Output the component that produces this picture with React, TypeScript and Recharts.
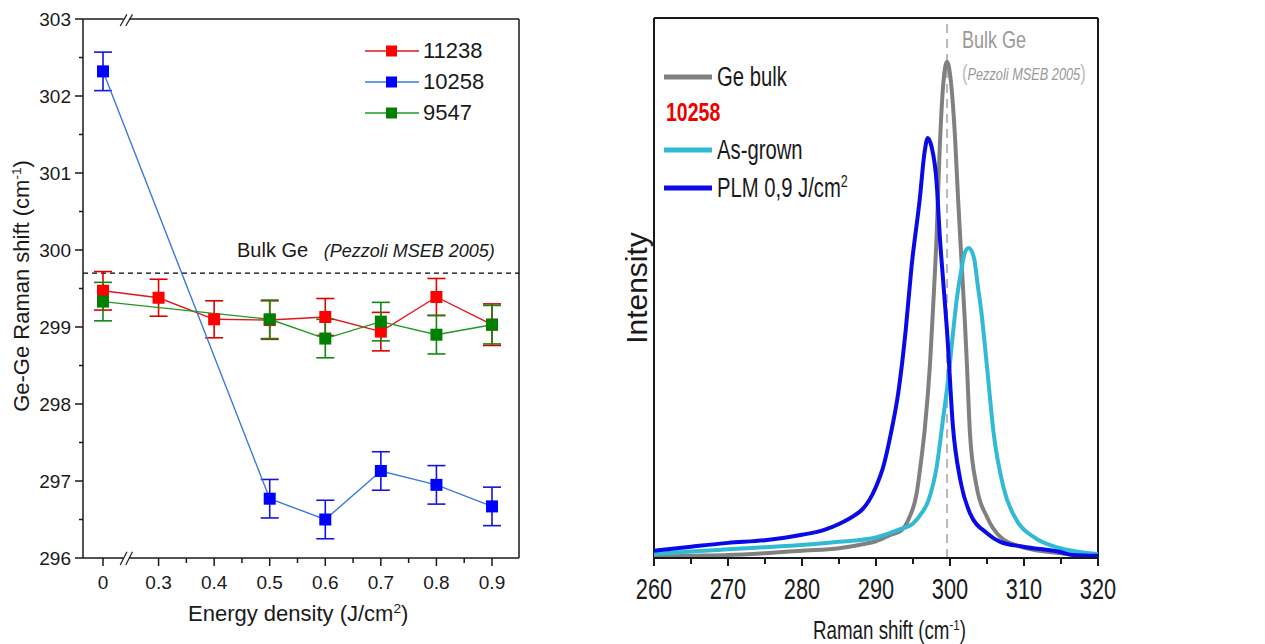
import React from "react";
import { LineChart, Line, XAxis, YAxis, ErrorBar, ReferenceLine } from "recharts";

// ---- left panel: Ge-Ge peak position vs. energy density ----
const energyLabels = ["0", "0.3", "0.4", "0.5", "0.6", "0.7", "0.8", "0.9"];
const shift11238 = [299.47, 299.38, 299.1, 299.09, 299.13, 298.94, 299.39, 299.03];
const err11238 = [0.25, 0.24, 0.24, 0.25, 0.24, 0.25, 0.24, 0.27];
const shift10258 = [302.32, null, null, 296.77, 296.5, 297.13, 296.95, 296.67];
const err10258 = [0.25, null, null, 0.25, 0.25, 0.25, 0.25, 0.25];
const shift9547 = [299.33, null, null, 299.1, 298.85, 299.07, 298.9, 299.03];
const err9547 = [0.25, null, null, 0.25, 0.25, 0.25, 0.25, 0.25];
const bulkGeShift = 299.7;
const leftYTicks = [296, 296.5, 297, 297.5, 298, 298.5, 299, 299.5, 300, 300.5, 301, 301.5, 302, 302.5, 303];
const leftXTicks = [0, 1, 1.5, 2, 2.5, 3, 3.5, 4, 4.5, 5, 5.5, 6, 6.5, 7];

// ---- right panel: Raman spectra ----
const geBulkShift = [260, 265, 270, 275, 280, 285, 288, 290, 292, 293.5, 294.5, 295.5, 296, 296.6, 297.3, 297.7, 298.2, 298.6, 299.1, 299.6, 300.1, 300.7, 301.1, 301.6, 302.0, 302.3, 302.7, 303.6, 305, 306.8, 309.5, 313.5, 317, 320];
const geBulkInt = [0.25, 0.4, 0.55, 0.9, 1.35, 1.8, 2.5, 3.1, 4.3, 5.2, 7.5, 12, 17, 24, 36, 46, 60, 75.5, 87.9, 91.9, 88.5, 77.4, 66.3, 53.9, 44, 35.4, 23, 13.2, 7.6, 3.9, 2.1, 1.1, 0.6, 0.4];

const asGrownShift = [260, 265, 270, 275, 280, 285, 290, 293, 295, 296, 297.1, 298.2, 299.1, 299.8, 300.4, 300.9, 301.6, 302.0, 302.5, 303.2, 303.8, 304.2, 305.0, 305.9, 307.2, 309.0, 311.3, 314.9, 317.5, 320];
const asGrownInt = [0.75, 1.2, 1.6, 2.0, 2.4, 3.0, 3.8, 5.2, 6.4, 8, 10.7, 16.9, 26.2, 33.6, 41.6, 47.8, 53.9, 56.5, 57.4, 55.8, 50, 46, 35.4, 23.1, 13.2, 7.0, 3.9, 1.8, 1.1, 0.75];

const plmShift = [260, 265, 270, 275, 280, 283, 285, 287, 288, 289, 290, 291, 292, 293, 294, 294.8, 295.9, 296.6, 297.0, 297.5, 298.2, 298.6, 299.1, 299.6, 300.4, 301.4, 302.7, 305, 306.8, 309.9, 314.9, 316.6, 320];
const plmInt = [1.35, 2.1, 2.8, 3.3, 4.3, 5.2, 6.3, 7.8, 8.8, 10.5, 13.2, 17, 23, 30.5, 42, 53.9, 66.3, 75.5, 77.8, 76.2, 69.4, 60, 50.9, 42, 24.3, 14.4, 8.3, 4.6, 3.0, 2.1, 1.1, 0.55, 0.4];
const bulkGeRef = 299.6;
const rightXTicks = [260, 265, 270, 275, 280, 285, 290, 295, 300, 305, 310, 315, 320];

const X_MIN = -0.36;
const X_MAX = 7.486;

const toSeries = (vals: (number | null)[], errs: (number | null)[]) =>
  vals
    .map((v, i) => ({ idx: i, value: v, err: errs[i] }))
    .filter((d) => d.value !== null);

const toSpectrum = (xs: number[], ys: number[]) => xs.map((x, i) => ({ shift: x, intensity: ys[i] }));

const series = [
  { name: "11238", data: toSeries(shift11238, err11238), line: "#e3141b", marker: "#ff0000", bar: "#e00000" },
  { name: "10258", data: toSeries(shift10258, err10258), line: "#3a78e0", marker: "#0000ff", bar: "#1414e0" },
  { name: "9547", data: toSeries(shift9547, err9547), line: "#1e9a1e", marker: "#008000", bar: "#118811" },
];

const spectra = [
  { name: "Ge bulk", data: toSpectrum(geBulkShift, geBulkInt), color: "#808080" },
  { name: "As-grown", data: toSpectrum(asGrownShift, asGrownInt), color: "#31bad3" },
  { name: "PLM 0,9 J/cm", data: toSpectrum(plmShift, plmInt), color: "#0a0ae8" },
];

const INK = "#1a1a1a";
const SANS = "'Liberation Sans', Arial, sans-serif";
const SQUEEZE = 0.75; // the right panel uses a condensed face

const squareDot = (fill: string) => (props: any) => {
  const { cx, cy, index } = props;
  if (cx == null || cy == null) return <g key={index} />;
  return <rect key={index} x={cx - 6} y={cy - 6} width={12} height={12} fill={fill} />;
};

const LeftYTick = ({ x, y, payload }: any) => {
  const major = Number.isInteger(payload.value);
  return (
    <g>
      <line x1={x} x2={x - (major ? 8 : 4)} y1={y} y2={y} stroke={INK} strokeWidth={1.5} />
      {major && (
        <text x={x - 12} y={y} dy="0.36em" textAnchor="end" fontSize={19} fill={INK} fontFamily={SANS}>
          {payload.value}
        </text>
      )}
    </g>
  );
};

const LeftXTick = ({ x, y, payload }: any) => {
  const major = Number.isInteger(payload.value);
  return (
    <g>
      <line x1={x} x2={x} y1={y} y2={y + (major ? 8 : 5)} stroke={INK} strokeWidth={1.5} />
      {major && (
        <text x={x} y={y + 24} dy="0.36em" textAnchor="middle" fontSize={19} fill={INK} fontFamily={SANS}>
          {energyLabels[payload.value]}
        </text>
      )}
    </g>
  );
};

const RightXTick = ({ x, y, payload }: any) => {
  const major = payload.value % 10 === 0;
  return (
    <g>
      <line x1={x} x2={x} y1={y} y2={y + (major ? 8 : 6)} stroke={INK} strokeWidth={2} />
      {major && (
        <text
          x={0}
          y={0}
          transform={`translate(${x} ${y + 31}) scale(${SQUEEZE} 1)`}
          dy="0.36em"
          textAnchor="middle"
          fontSize={29}
          fill={INK}
          fontFamily={SANS}
        >
          {payload.value}
        </text>
      )}
    </g>
  );
};

const Txt = ({ x, y, size, children, style }: any) => (
  <div
    style={{
      position: "absolute",
      left: x,
      top: y - size * 0.6,
      fontSize: size,
      lineHeight: `${size * 1.2}px`,
      whiteSpace: "nowrap",
      color: INK,
      ...style,
    }}
  >
    {children}
  </div>
);

const VTxt = ({ cx, cy, size, children, style }: any) => (
  <div
    style={{
      position: "absolute",
      left: cx,
      top: cy,
      fontSize: size,
      lineHeight: `${size * 1.2}px`,
      whiteSpace: "nowrap",
      color: INK,
      transform: "translate(-50%, -50%) rotate(-90deg)",
      ...style,
    }}
  >
    {children}
  </div>
);

const Narrow = ({ children }: any) => (
  <span style={{ display: "inline-block", transform: `scaleX(${SQUEEZE})`, transformOrigin: "left center", whiteSpace: "nowrap" }}>
    {children}
  </span>
);

const Sup = ({ children }: any) => (
  <sup style={{ fontSize: "0.62em", lineHeight: 0, verticalAlign: "0.6em" }}>{children}</sup>
);

export default function App() {
  return (
    <div
      style={{
        position: "fixed",
        left: 0,
        top: 0,
        width: 1265,
        height: 644,
        background: "#fff",
        fontFamily: SANS,
        overflow: "hidden",
      }}
    >
      {/* left panel */}
      <div style={{ position: "absolute", left: 0, top: 0 }}>
        <LineChart width={540} height={644} margin={{ top: 19, right: 21, bottom: 46, left: 23 }}>
          <XAxis
            type="number"
            dataKey="idx"
            domain={[X_MIN, X_MAX]}
            ticks={leftXTicks}
            interval={0}
            allowDataOverflow
            axisLine={false}
            tickLine={false}
            tickSize={0}
            tickMargin={0}
            height={40}
            tick={<LeftXTick />}
          />
          <YAxis
            type="number"
            domain={[296, 303]}
            ticks={leftYTicks}
            interval={0}
            allowDataOverflow
            width={60}
            axisLine={{ stroke: INK, strokeWidth: 1.5 }}
            tickLine={false}
            tickSize={0}
            tickMargin={0}
            tick={<LeftYTick />}
          />
          {/* frame with axis breaks */}
          <ReferenceLine segment={[{ x: X_MIN, y: 303 }, { x: 0.37, y: 303 }]} stroke={INK} strokeWidth={1.5} ifOverflow="visible" />
          <ReferenceLine segment={[{ x: 0.47, y: 303 }, { x: X_MAX, y: 303 }]} stroke={INK} strokeWidth={1.5} ifOverflow="visible" />
          <ReferenceLine segment={[{ x: X_MIN, y: 296 }, { x: 0.37, y: 296 }]} stroke={INK} strokeWidth={1.5} ifOverflow="visible" />
          <ReferenceLine segment={[{ x: 0.47, y: 296 }, { x: X_MAX, y: 296 }]} stroke={INK} strokeWidth={1.5} ifOverflow="visible" />
          <ReferenceLine segment={[{ x: 0.31, y: 302.91 }, { x: 0.43, y: 303.06 }]} stroke={INK} strokeWidth={1.2} ifOverflow="visible" />
          <ReferenceLine segment={[{ x: 0.41, y: 302.91 }, { x: 0.53, y: 303.06 }]} stroke={INK} strokeWidth={1.2} ifOverflow="visible" />
          <ReferenceLine segment={[{ x: 0.31, y: 295.91 }, { x: 0.43, y: 296.08 }]} stroke={INK} strokeWidth={1.2} ifOverflow="visible" />
          <ReferenceLine segment={[{ x: 0.41, y: 295.91 }, { x: 0.53, y: 296.08 }]} stroke={INK} strokeWidth={1.2} ifOverflow="visible" />
          <ReferenceLine x={X_MAX} stroke={INK} strokeWidth={1.5} ifOverflow="visible" />
          <ReferenceLine y={bulkGeShift} stroke="#000" strokeWidth={1.3} strokeDasharray="5 4" />
          {series.map((s) => (
            <Line
              key={s.name}
              data={s.data}
              dataKey="value"
              type="linear"
              stroke={s.line}
              strokeWidth={1.4}
              dot={squareDot(s.marker)}
              activeDot={false}
              isAnimationActive={false}
            >
              <ErrorBar dataKey="err" direction="y" width={9} stroke={s.bar} strokeWidth={1.6} />
            </Line>
          ))}
        </LineChart>
      </div>

      {/* left legend */}
      {series.map((s, i) => (
        <div key={s.name} style={{ position: "absolute", left: 365, top: 51 + i * 31 - 13, height: 26, display: "flex", alignItems: "center", whiteSpace: "nowrap" }}>
          <svg width={54} height={26}>
            <line x1={0} x2={54} y1={13} y2={13} stroke={s.line} strokeWidth={1.5} />
            <rect x={21} y={7.5} width={11} height={11} fill={s.marker} />
          </svg>
          <span style={{ fontSize: 22, marginLeft: 4, color: INK }}>{s.name}</span>
        </div>
      ))}

      <Txt x={237} y={250} size={20}>
        Bulk Ge <span style={{ fontStyle: "italic", fontSize: 18, marginLeft: 10 }}>(Pezzoli MSEB 2005)</span>
      </Txt>
      <VTxt cx={22} cy={286} size={22}>
        Ge-Ge Raman shift (cm<Sup>-1</Sup>)
      </VTxt>
      <Txt x={188} y={614} size={22}>
        Energy density (J/cm<Sup>2</Sup>)
      </Txt>

      {/* right panel */}
      <div style={{ position: "absolute", left: 600, top: 0 }}>
        <LineChart width={520} height={644} margin={{ top: 18, right: 22, bottom: 46, left: 54 }}>
          <XAxis
            type="number"
            dataKey="shift"
            domain={[260, 320]}
            ticks={rightXTicks}
            interval={0}
            allowDataOverflow
            axisLine={{ stroke: INK, strokeWidth: 2 }}
            tickLine={false}
            tickSize={0}
            tickMargin={0}
            height={40}
            tick={<RightXTick />}
          />
          <YAxis type="number" domain={[0, 100]} allowDataOverflow width={0} tick={false} tickLine={false} axisLine={false} />
          <ReferenceLine x={260} stroke={INK} strokeWidth={2} ifOverflow="visible" />
          <ReferenceLine y={100} stroke={INK} strokeWidth={2} ifOverflow="visible" />
          <ReferenceLine x={320} stroke={INK} strokeWidth={2} ifOverflow="visible" />
          <ReferenceLine x={bulkGeRef} stroke="#b8b8b8" strokeWidth={2} strokeDasharray="9 6" />
          {spectra.map((s) => (
            <Line
              key={s.name}
              data={s.data}
              dataKey="intensity"
              type="monotone"
              stroke={s.color}
              strokeWidth={4}
              dot={false}
              activeDot={false}
              isAnimationActive={false}
            />
          ))}
        </LineChart>
      </div>

      {/* right legend */}
      {[
        { y: 77, s: spectra[0], label: <>Ge bulk</> },
        { y: 150, s: spectra[1], label: <>As-grown</> },
        { y: 188, s: spectra[2], label: <>PLM 0,9 J/cm<Sup>2</Sup></> },
      ].map((r) => (
        <div key={r.s.name} style={{ position: "absolute", left: 664, top: r.y - 16, height: 32, width: 260, display: "flex", alignItems: "center", whiteSpace: "nowrap" }}>
          <svg width={48} height={32} style={{ flex: "none" }}>
            <line x1={0} x2={48} y1={16} y2={16} stroke={r.s.color} strokeWidth={5} />
          </svg>
          <span style={{ fontSize: 27, marginLeft: 5, color: INK }}>
            <Narrow>{r.label}</Narrow>
          </span>
        </div>
      ))}
      <Txt x={666} y={113} size={26} style={{ fontWeight: 700, color: "#ee0000" }}>
        <Narrow>10258</Narrow>
      </Txt>

      <Txt x={962} y={40} size={24} style={{ color: "#999" }}>
        <Narrow>Bulk Ge</Narrow>
      </Txt>
      <Txt x={962} y={73} size={17} style={{ color: "#999" }}>
        <Narrow>
          <span style={{ fontSize: 22, fontWeight: 300, color: "#bbb" }}>(</span>
          <span style={{ fontStyle: "italic" }}>Pezzoli MSEB 2005</span>
          <span style={{ fontSize: 22, fontWeight: 300, color: "#bbb" }}>)</span>
        </Narrow>
      </Txt>
      <VTxt cx={637} cy={288} size={30}>
        Intensity
      </VTxt>
      <Txt x={813} y={630} size={25}>
        <Narrow>
          Raman shift (cm<Sup>-1</Sup>)
        </Narrow>
      </Txt>
    </div>
  );
}
